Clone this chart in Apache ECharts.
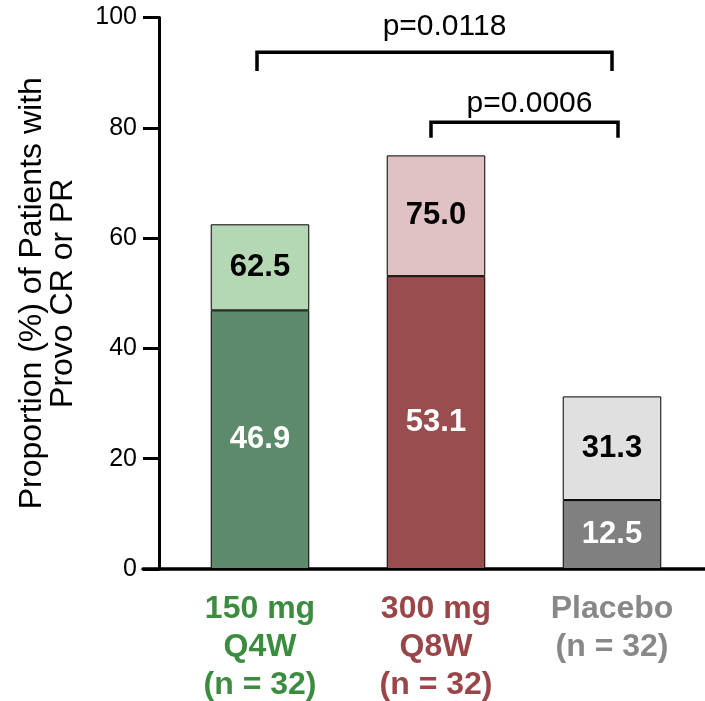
<!DOCTYPE html>
<html>
<head>
<meta charset="utf-8">
<script src="https://cdn.jsdelivr.net/npm/echarts@6/dist/echarts.min.js"></script>
<style>
html,body{margin:0;padding:0;background:#fff;}
#chart{width:705px;height:701px;}
</style>
</head>
<body>
<div id="chart"></div>
<script>
// ---- data ----
var categories = ['150 mg\nQ4W\n(n = 32)', '300 mg\nQ8W\n(n = 32)', 'Placebo\n(n = 32)'];
var crValues = [46.9, 53.1, 12.5];          // lower (dark) segment
var totalValues = [62.5, 75.0, 31.3];       // CR or PR total (top of bar)
var yTicks = [0, 20, 40, 60, 80, 100];
var bracketFrom = [0, 1];
var bracketTo = [2, 2];
var bracketTop = [93.7, 81.0];
var bracketLeg = [90.3, 78.2];
var bracketLabelY = [98.4, 84.4];
var bracketLabels = ['p=0.0118', 'p=0.0006'];

// ---- styles ----
var FONT = 'Liberation Sans, Arial, sans-serif';
var darkColors = ['#5D8A6A', '#994D4F', '#808080'];
var lightColors = ['#B4D8B4', '#E0C2C4', '#E0E0E0'];
var catColors = ['#3B8C3F', '#9A4548', '#888888'];

var topSegment = totalValues.map(function (t, i) { return +(t - crValues[i]).toFixed(1); });

var chart = echarts.init(document.getElementById('chart'), null, {renderer: 'canvas'});

var richCat = {};
catColors.forEach(function (c, i) {
  richCat['c' + i] = {color: c, fontSize: 32, fontWeight: 'bold', fontFamily: FONT, lineHeight: 38, align: 'center'};
});

var bracketData = bracketFrom.map(function (f, i) {
  return [f, bracketTo[i], bracketTop[i], bracketLeg[i], bracketLabelY[i], i];
});

var option = {
  backgroundColor: '#fff',
  animation: false,
  grid: [
    {left: 172, right: 5, top: 17.5, bottom: 132},
    {left: 143, right: 0, top: 17.5, bottom: 132}
  ],
  xAxis: [
    {
      type: 'category', gridIndex: 0, data: categories,
      axisLine: {show: false}, axisTick: {show: false},
      axisLabel: {
        margin: 21, interval: 0,
        formatter: function (v, idx) {
          return v.split('\n').map(function (s) { return '{c' + idx + '|' + s + '}'; }).join('\n');
        },
        rich: richCat
      }
    },
    {
      type: 'value', gridIndex: 1, min: 0, max: 1,
      axisLine: {show: true, lineStyle: {color: '#000', width: 3.5}},
      axisTick: {show: false}, axisLabel: {show: false}, splitLine: {show: false}
    }
  ],
  yAxis: [
    {
      type: 'value', gridIndex: 0, min: yTicks[0], max: yTicks[yTicks.length - 1], interval: 20,
      offset: 13,
      name: 'Proportion (%) of Patients with\nProvo CR or PR',
      nameLocation: 'middle', nameGap: 80,
      nameTextStyle: {fontSize: 32, fontFamily: FONT, color: '#000', lineHeight: 31},
      axisLine: {show: true, lineStyle: {color: '#000', width: 3}},
      axisTick: {show: true, length: 16, lineStyle: {color: '#000', width: 3}},
      axisLabel: {fontSize: 25, fontFamily: FONT, color: '#000', margin: 22},
      splitLine: {show: false}
    },
    {type: 'value', gridIndex: 1, show: false, min: 0, max: 100}
  ],
  series: [
    {
      type: 'bar', stack: 'a', xAxisIndex: 0, yAxisIndex: 0, barWidth: '56%',
      data: crValues.map(function (v, i) {
        return {value: v, itemStyle: {color: darkColors[i]}};
      }),
      itemStyle: {borderColor: '#000', borderWidth: 1},
      label: {
        show: true, position: 'inside', color: '#fff', fontSize: 31, fontWeight: 'bold', fontFamily: FONT,
        formatter: function (p) { return crValues[p.dataIndex].toFixed(1); }
      }
    },
    {
      type: 'bar', stack: 'a', xAxisIndex: 0, yAxisIndex: 0, barWidth: '56%',
      data: topSegment.map(function (v, i) {
        return {value: v, itemStyle: {color: lightColors[i]}};
      }),
      itemStyle: {borderColor: '#000', borderWidth: 1},
      label: {
        show: true, position: 'inside', color: '#000', fontSize: 31, fontWeight: 'bold', fontFamily: FONT,
        formatter: function (p) { return totalValues[p.dataIndex].toFixed(1); }
      }
    },
    {
      type: 'custom', xAxisIndex: 0, yAxisIndex: 0, clip: false, z: 10,
      data: bracketData,
      encode: {x: [0, 1], y: [2, 3, 4]},
      renderItem: function (params, api) {
        var i = api.value(5);
        var pL = api.coord([api.value(0), api.value(2)]);
        var pR = api.coord([api.value(1), api.value(2)]);
        var legY = api.coord([api.value(0), api.value(3)])[1];
        var labY = api.coord([api.value(0), api.value(4)])[1];
        var x1 = pL[0] - (i === 0 ? 3 : 5);
        var x2 = pR[0] + (i === 0 ? 0 : 6);
        var midX = (x1 + x2) / 2 + (i === 0 ? 10 : 5);
        return {
          type: 'group',
          children: [
            {
              type: 'polyline',
              shape: {points: [[x1, legY], [x1, pL[1]], [x2, pL[1]], [x2, legY]]},
              style: {stroke: '#000', lineWidth: 3.5, fill: null}
            },
            {
              type: 'text',
              style: {
                text: bracketLabels[i], x: midX, y: labY,
                align: 'center', verticalAlign: 'middle',
                fill: '#000', font: '30px ' + FONT
              }
            }
          ]
        };
      }
    }
  ]
};
chart.setOption(option);
</script>
</body>
</html>
